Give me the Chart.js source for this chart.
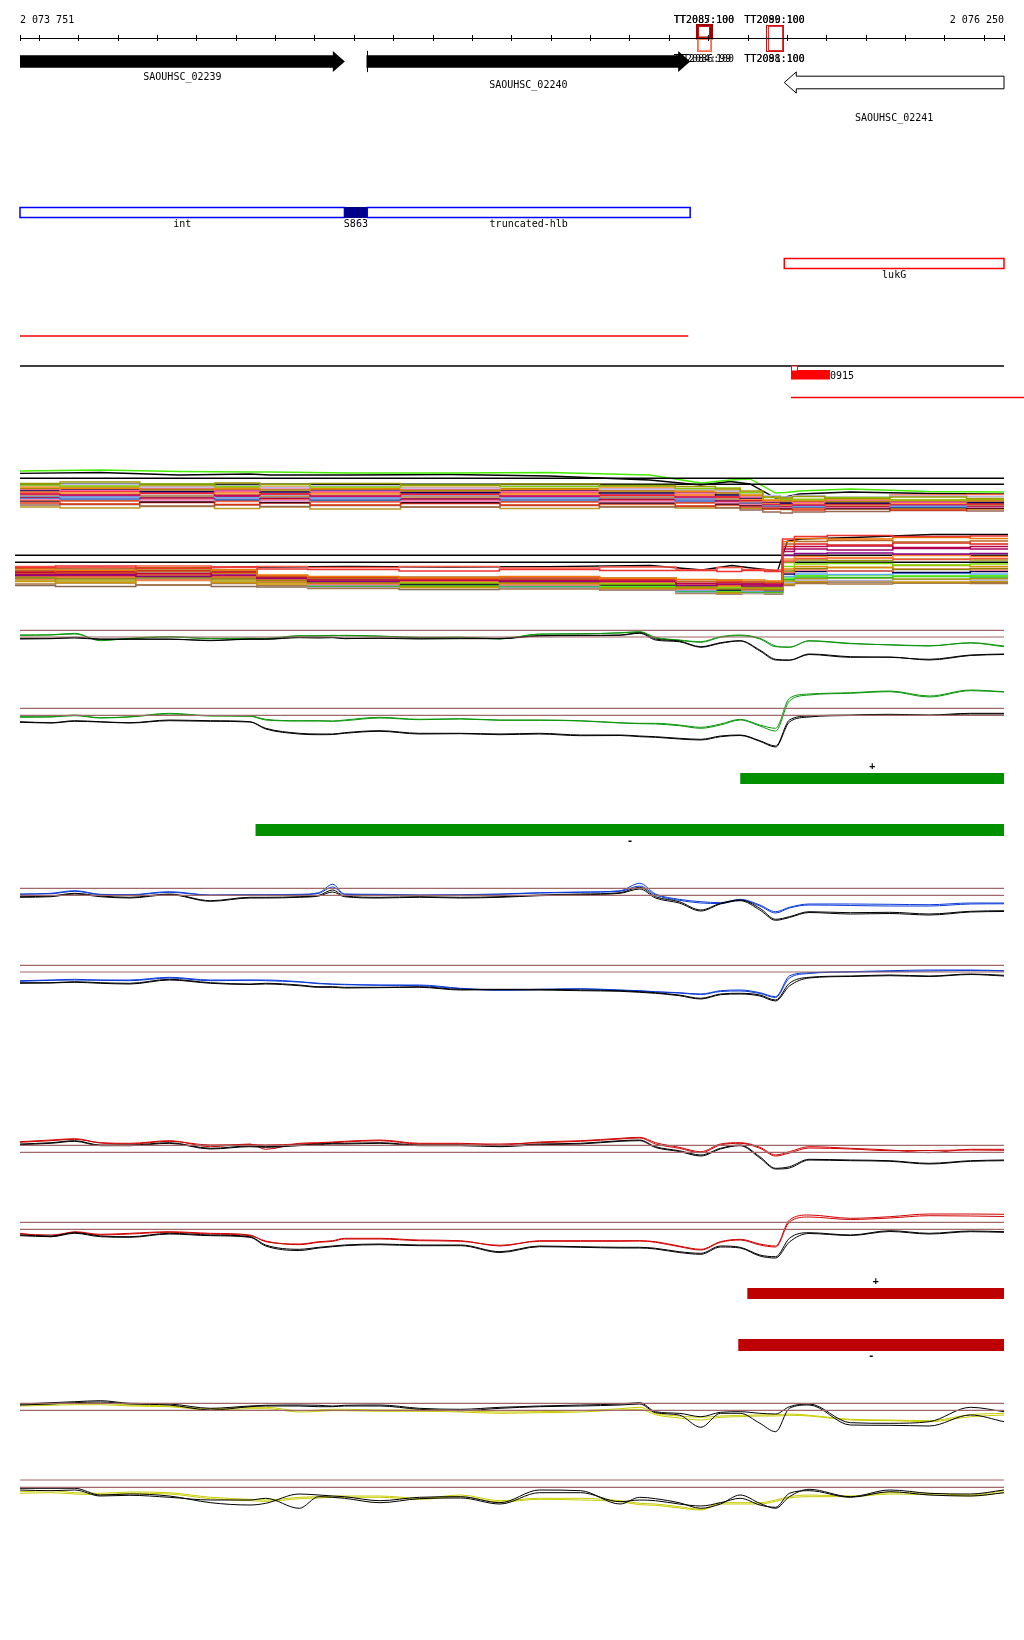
<!DOCTYPE html>
<html>
<head>
<meta charset="utf-8">
<script src="https://cdn.jsdelivr.net/npm/chart.js@4.4.1/dist/chart.umd.min.js"></script>
<style>
  html, body { margin: 0; padding: 0; background: #fff; }
  #page { position: relative; width: 1024px; height: 1640px; overflow: hidden; background: #fff; }
</style>
</head>
<body>
<div id="page"></div>
<script>
// region shown (bp)
const regionStart = 2073751;
const regionEnd = 2076250;
const rulerTicks = [2073751, 2073800, 2073900, 2074000, 2074100, 2074200, 2074300, 2074400, 2074500,
  2074600, 2074700, 2074800, 2074900, 2075000, 2075100, 2075200, 2075300, 2075400, 2075500, 2075600,
  2075700, 2075800, 2075900, 2076000, 2076100, 2076200, 2076250];

// genes
const geneNames = ['SAOUHSC_02239', 'SAOUHSC_02240', 'SAOUHSC_02241'];
const geneStarts = [2073751, 2074631, 2075692];
const geneEnds = [2074576, 2075453, 2076250];
const geneStrands = ['+', '+', '-'];

// terminators
const termNames = ['TT2085', 'TT2087', 'TT2084', 'TT2086', 'TT2089', 'TT2090', 'TT2088', 'TT2091'];
const termScores = [100, 100, 100, 99, 100, 100, 100, 100];
const termStrands = ['+', '+', '-', '-', '+', '+', '-', '-'];
const termStarts = [2075470, 2075474, 2075470, 2075473, 2075645, 2075650, 2075645, 2075650];
const termEnds = [2075506, 2075503, 2075506, 2075504, 2075689, 2075685, 2075689, 2075685];

// other features
const featureNames = ['int', 'S863', 'truncated-hlb'];
const featureStarts = [2073751, 2074575, 2074633];
const featureEnds = [2074575, 2074633, 2075453];
const lukGRange = [2075692, 2076250];
const redSegment = [2073751, 2075448];
const blackSegment = [2073751, 2076250];
const block0915 = [2075709, 2075808];
const redSegment2 = [2075709, 2076310];

// strand bars
const greenPlus = [2075581, 2076250];
const greenMinus = [2074350, 2076250];
const redPlus = [2075599, 2076250];
const redMinus = [2075576, 2076250];

// multi-sample bundles
const bundleX = [2073751, 2073955, 2074155, 2074335, 2074385, 2074590, 2074845, 2075095, 2075350,
  2075480, 2075555, 2075605, 2075670, 2075695, 2075730, 2075860, 2076060, 2076250];

const bundleAFlat = [4.17, 3.57];
const bundleAGreen = [4.9, 5.0, 4.85, 4.8, 4.8, 4.7, 4.7, 4.75, 4.5, 3.7, 4.0, 4.1, 2.7, 2.75, 2.9, 3.1, 2.85, 2.8];
const bundleABlack = [4.67, 4.75, 4.5, 4.6, 4.5, 4.5, 4.55, 4.4, 4.0, 3.5, 3.85, 3.6, 2.2, 2.3, 2.6, 2.8, 2.65, 2.6];
const bundleALines = [
  [3.65, 3.8, 3.5, 3.7, 3.55, 3.65, 3.45, 3.6, 3.4, 3.35, 3.1, 2.9, 2.3, 2.2, 2.35, 2.15, 2.3, 2.15],
  [3.5, 3.4, 3.6, 3.35, 3.55, 3.3, 3.5, 3.35, 3.45, 3.15, 3.2, 2.75, 2.25, 2.1, 2.05, 2.25, 2.0, 2.1],
  [3.45, 3.55, 3.3, 3.45, 3.25, 3.4, 3.2, 3.4, 3.1, 3.05, 2.9, 2.7, 2.45, 2.3, 2.45, 2.3, 2.4, 2.35],
  [3.3, 3.15, 3.35, 3.1, 3.3, 3.1, 3.25, 3.05, 3.2, 2.85, 2.95, 2.5, 2.0, 2.05, 1.9, 2.1, 1.95, 2.05],
  [3.15, 3.3, 3.05, 3.2, 3.0, 3.15, 2.95, 3.15, 2.9, 2.9, 2.7, 2.45, 1.95, 1.9, 2.05, 1.85, 2.0, 1.9],
  [3.05, 2.95, 3.15, 2.9, 3.1, 2.85, 3.05, 2.85, 2.95, 2.7, 2.75, 2.3, 1.85, 1.9, 1.75, 1.95, 1.8, 1.9],
  [2.95, 3.05, 2.85, 3.0, 2.8, 3.0, 2.75, 2.95, 2.7, 2.75, 2.5, 2.2, 1.8, 1.7, 1.85, 1.7, 1.85, 1.75],
  [2.85, 2.7, 2.9, 2.7, 2.85, 2.65, 2.85, 2.6, 2.75, 2.5, 2.55, 2.1, 1.7, 1.75, 1.65, 1.8, 1.65, 1.75],
  [2.7, 2.85, 2.65, 2.8, 2.6, 2.7, 2.55, 2.7, 2.45, 2.5, 2.3, 2.0, 1.7, 1.6, 1.7, 1.6, 1.75, 1.6],
  [2.6, 2.5, 2.7, 2.45, 2.6, 2.4, 2.6, 2.4, 2.5, 2.3, 2.3, 1.95, 1.6, 1.65, 1.5, 1.65, 1.55, 1.65],
  [2.5, 2.6, 2.4, 2.55, 2.35, 2.5, 2.3, 2.5, 2.25, 2.3, 2.1, 1.85, 1.55, 1.45, 1.6, 1.45, 1.6, 1.5],
  [2.4, 2.3, 2.45, 2.25, 2.4, 2.2, 2.4, 2.2, 2.3, 2.1, 2.1, 1.8, 1.5, 1.5, 1.4, 1.55, 1.4, 1.55],
  [2.3, 2.4, 2.2, 2.35, 2.15, 2.3, 2.1, 2.3, 2.05, 2.1, 1.9, 1.75, 1.45, 1.35, 1.5, 1.35, 1.5, 1.4],
  [2.2, 2.1, 2.3, 2.05, 2.2, 2.0, 2.15, 2.0, 2.1, 1.9, 1.95, 1.7, 1.4, 1.4, 1.3, 1.45, 1.3, 1.45],
  [2.1, 2.2, 2.0, 2.15, 1.95, 2.1, 1.9, 2.1, 1.85, 1.9, 1.75, 1.6, 1.35, 1.25, 1.4, 1.25, 1.4, 1.3],
  [2.0, 1.9, 2.05, 1.85, 2.0, 1.8, 1.95, 1.8, 1.9, 1.7, 1.75, 1.55, 1.3, 1.3, 1.2, 1.35, 2.5, 2.55],
  [1.9, 1.95, 1.8, 1.9, 1.75, 1.9, 1.75, 1.85, 1.7, 1.75, 1.6, 1.45, 1.25, 1.15, 1.25, 1.15, 1.25, 1.2],
  [1.7, 1.6, 1.75, 1.55, 1.7, 1.5, 1.65, 1.5, 1.6, 1.4, 1.5, 1.3, 1.1, 1.1, 1.0, 1.15, 1.0, 1.15],
  [1.5, 1.55, 1.4, 1.5, 1.35, 1.45, 1.3, 1.45, 1.3, 1.35, 1.2, 1.0, 0.8, 0.7, 0.8, 0.85, 0.95, 0.9],
  [1.3, 1.2, 1.35, 1.15, 1.3, 1.1, 1.3, 1.15, 1.35, 1.2, 1.25, 1.15, 1.1, 1.05, 1.15, 1.1, 1.15, 1.1]
];
const bundleAColors = ['#999900', '#88cc00', '#bbbbee', '#ee8800', '#aa8800', '#ff66aa', '#000066',
  '#ff9933', '#ee2222', '#cc0066', '#cc8844', '#66aaee', '#bb0033', '#3377cc', '#ee88cc', '#ff6644',
  '#330022', '#dd3311', '#996655', '#bb9922'];

const bundleBFlat = [4.47, 3.77];
const bundleBBlack = [3.2, 3.25, 3.2, 3.3, 3.3, 3.35, 3.3, 3.33, 3.45, 3.0, 3.45, 3.2, 2.9, 5.9, 6.1, 6.25, 6.55, 6.55];
const bundleBLines = [
  [3.25, 3.4, 3.15, 3.3, 3.1, 3.05, 2.9, 3.05, 2.95, 2.95, 2.85, 2.95, 2.85, 6.1, 6.35, 6.45, 6.35, 6.4],
  [3.1, 2.95, 3.2, 3.0, 2.5, 2.35, 2.2, 2.35, 2.15, 2.05, 1.95, 2.0, 1.9, 5.85, 6.15, 6.1, 6.25, 6.15],
  [2.95, 3.1, 2.85, 3.0, 2.4, 2.15, 2.3, 2.1, 2.2, 1.85, 2.0, 1.8, 1.8, 5.6, 5.85, 5.95, 5.8, 5.9],
  [2.85, 2.7, 2.95, 2.75, 2.35, 2.25, 2.05, 2.2, 2.0, 1.85, 1.75, 1.8, 1.7, 5.35, 5.6, 5.5, 5.7, 5.6],
  [2.75, 2.85, 2.65, 2.8, 2.3, 2.0, 2.15, 1.95, 2.1, 1.65, 1.8, 1.6, 1.6, 5.1, 5.35, 5.4, 5.25, 5.35],
  [2.55, 2.45, 2.65, 2.45, 2.2, 2.1, 1.95, 2.1, 1.85, 1.65, 1.55, 1.6, 1.5, 4.85, 5.1, 5.0, 5.15, 5.1],
  [2.45, 2.55, 2.35, 2.5, 2.15, 1.85, 2.0, 1.85, 1.95, 1.45, 1.6, 1.4, 1.4, 4.45, 4.65, 4.7, 4.6, 4.65],
  [2.4, 2.3, 2.5, 2.3, 2.1, 2.0, 1.85, 2.0, 1.75, 1.5, 1.4, 1.45, 1.35, 4.1, 4.35, 4.25, 4.45, 4.35],
  [3.35, 3.25, 3.4, 3.25, 3.35, 3.25, 3.35, 3.2, 3.3, 3.0, 3.25, 3.05, 3.0, 3.9, 4.15, 4.2, 4.05, 4.15],
  [2.3, 2.4, 2.2, 2.35, 2.05, 1.8, 1.9, 1.75, 1.85, 1.3, 1.45, 1.25, 1.25, 3.75, 4.0, 3.95, 4.1, 4.0],
  [2.9, 2.8, 3.0, 2.8, 2.3, 1.9, 1.75, 1.9, 1.65, 1.35, 1.25, 1.3, 1.2, 3.35, 3.6, 3.65, 3.5, 3.6],
  [2.65, 2.75, 2.55, 2.7, 2.15, 1.7, 1.8, 1.65, 1.75, 1.2, 1.35, 1.15, 1.15, 3.1, 3.35, 3.25, 3.45, 3.35],
  [2.2, 2.1, 2.3, 2.1, 1.95, 1.75, 1.65, 1.75, 1.55, 1.2, 1.1, 1.15, 1.05, 2.9, 3.15, 3.25, 3.05, 3.15],
  [2.1, 2.2, 2.0, 2.15, 1.85, 1.55, 1.7, 1.5, 1.6, 1.05, 1.2, 1.0, 1.0, 2.75, 3.0, 2.9, 3.1, 3.0],
  [2.35, 2.25, 2.45, 2.25, 1.95, 1.7, 1.55, 1.7, 1.5, 1.1, 1.0, 1.05, 0.95, 2.6, 2.85, 2.9, 2.75, 2.85],
  [2.25, 2.35, 2.15, 2.3, 1.9, 1.5, 1.65, 1.45, 1.55, 0.95, 1.1, 0.9, 0.9, 2.35, 2.6, 2.55, 2.65, 2.6],
  [2.8, 2.7, 2.9, 2.7, 2.1, 1.55, 1.45, 1.55, 1.35, 1.0, 0.9, 0.95, 0.85, 2.2, 2.45, 2.5, 2.4, 2.45],
  [2.75, 2.85, 2.65, 2.8, 2.05, 1.4, 1.55, 1.35, 1.45, 0.85, 1.0, 0.8, 0.8, 2.05, 2.3, 2.25, 2.35, 2.3],
  [2.0, 1.9, 2.1, 1.9, 1.75, 1.45, 1.35, 1.45, 1.25, 0.9, 0.8, 0.85, 0.75, 1.9, 2.15, 2.2, 2.1, 2.15],
  [2.15, 2.25, 2.05, 2.2, 1.8, 1.3, 1.45, 1.25, 1.35, 0.75, 0.9, 0.7, 0.7, 1.75, 2.0, 1.95, 2.05, 2.0],
  [1.85, 1.75, 1.95, 1.75, 1.6, 1.35, 1.25, 1.35, 1.15, 0.8, 0.7, 0.75, 0.7, 1.6, 1.85, 1.9, 1.8, 1.85],
  [1.6, 1.7, 1.5, 1.65, 1.45, 1.15, 1.3, 1.1, 1.2, 0.65, 0.8, 0.65, 0.65, 1.45, 1.65, 1.6, 1.7, 1.65],
  [1.45, 1.35, 1.5, 1.35, 1.3, 1.2, 1.05, 1.2, 1.0, 0.7, 0.6, 0.7, 0.6, 1.55, 1.75, 1.8, 1.7, 1.75]
];
const bundleBColors = ['#ee3333', '#ee7700', '#bb6622', '#dd2222', '#bb0044', '#aa0066', '#880088',
  '#ff8833', '#ff5544', '#999900', '#77dd00', '#dd8800', '#888800', '#ff7766', '#000055', '#66aaff',
  '#55ee11', '#22bb22', '#aa9900', '#aaaadd', '#cc9900', '#aa7744', '#886655'];

// paired signal tracks
const trackX = [2073751, 2073830, 2073890, 2073955, 2074030, 2074130, 2074235, 2074335, 2074375, 2074460,
  2074510, 2074545, 2074575, 2074665, 2074765, 2074870, 2074970, 2075070, 2075175, 2075275, 2075325,
  2075365, 2075425, 2075480, 2075530, 2075580, 2075630, 2075670, 2075705, 2075755, 2075860, 2075960,
  2076060, 2076165, 2076250];

const greenPlusThresholds = [3.97, 3.3];
const greenPlusA = [3.5, 3.53, 3.67, 2.93, 3.17, 3.33, 3.17, 3.17, 3.17, 3.43, 3.43, 3.43, 3.47, 3.4, 3.27, 3.27, 3.1, 3.6, 3.6, 3.73, 3.83, 3.27, 3.0, 2.83, 3.33, 3.5, 3.17, 2.4, 2.27, 2.93, 2.67, 2.5, 2.4, 2.73, 2.4];
const greenPlusB = [3.47, 3.5, 3.6, 3.0, 3.13, 3.3, 3.13, 3.17, 3.13, 3.4, 3.4, 3.47, 3.43, 3.37, 3.23, 3.27, 3.13, 3.57, 3.63, 3.7, 3.8, 3.2, 2.97, 2.77, 3.27, 3.43, 3.1, 2.33, 2.3, 2.9, 2.63, 2.53, 2.43, 2.7, 2.33];
const greenPlusRefA = [3.17, 3.17, 3.27, 3.1, 3.1, 3.1, 2.93, 3.1, 3.1, 3.27, 3.27, 3.27, 3.13, 3.2, 3.17, 3.17, 3.17, 3.43, 3.47, 3.5, 3.73, 3.1, 2.9, 2.33, 2.73, 2.93, 2.0, 1.07, 1.0, 1.6, 1.33, 1.27, 1.07, 1.5, 1.6];
const greenPlusRefB = [3.1, 3.13, 3.2, 3.07, 3.07, 3.07, 2.97, 3.07, 3.07, 3.23, 3.2, 3.23, 3.17, 3.17, 3.1, 3.13, 3.13, 3.4, 3.43, 3.47, 3.67, 3.0, 2.83, 2.27, 2.67, 2.9, 1.9, 1.0, 0.97, 1.55, 1.27, 1.3, 1.0, 1.45, 1.55];

const greenMinusThresholds = [4.17, 3.47];
const greenMinusA = [3.33, 3.33, 3.5, 3.23, 3.33, 3.67, 3.43, 3.4, 3.07, 2.93, 2.93, 2.9, 3.0, 3.27, 3.07, 3.13, 3.0, 3.0, 2.93, 2.73, 2.67, 2.67, 2.5, 2.27, 2.6, 3.07, 2.5, 2.17, 5.17, 5.6, 5.73, 5.9, 5.4, 6.0, 5.83];
const greenMinusB = [3.27, 3.3, 3.43, 3.2, 3.3, 3.6, 3.4, 3.37, 3.0, 2.9, 2.9, 2.87, 2.93, 3.2, 3.03, 3.1, 2.97, 2.97, 2.9, 2.7, 2.63, 2.6, 2.43, 2.17, 2.5, 3.0, 2.4, 1.9, 4.9, 5.5, 5.67, 5.83, 5.3, 5.93, 5.8];
const greenMinusRefA = [2.83, 2.73, 2.93, 2.83, 2.73, 3.0, 2.93, 2.83, 2.17, 1.67, 1.6, 1.6, 1.73, 1.93, 1.67, 1.67, 1.6, 1.67, 1.5, 1.5, 1.4, 1.33, 1.17, 1.07, 1.4, 1.5, 0.93, 0.4, 3.0, 3.4, 3.5, 3.57, 3.5, 3.67, 3.67];
const greenMinusRefB = [2.77, 2.7, 2.87, 2.8, 2.7, 2.93, 2.87, 2.8, 2.1, 1.6, 1.53, 1.55, 1.67, 1.87, 1.6, 1.63, 1.53, 1.6, 1.43, 1.45, 1.33, 1.27, 1.1, 1.0, 1.33, 1.45, 0.87, 0.3, 2.8, 3.3, 3.45, 3.5, 3.45, 3.6, 3.6];

const bluePlusThresholds = [4.17, 3.47];
const bluePlusA = [3.57, 3.67, 3.93, 3.57, 3.53, 3.83, 3.5, 3.53, 3.53, 3.57, 3.73, 4.57, 3.6, 3.57, 3.5, 3.53, 3.6, 3.73, 3.8, 3.93, 4.67, 3.6, 3.07, 2.83, 2.73, 3.07, 2.5, 1.83, 2.27, 2.6, 2.6, 2.57, 2.53, 2.7, 2.7];
const bluePlusB = [3.6, 3.63, 3.87, 3.53, 3.5, 3.77, 3.47, 3.5, 3.5, 3.53, 3.67, 4.3, 3.57, 3.53, 3.47, 3.5, 3.57, 3.7, 3.77, 3.87, 4.4, 3.5, 2.97, 2.7, 2.65, 3.0, 2.4, 1.7, 2.2, 2.5, 2.45, 2.4, 2.4, 2.6, 2.62];
const bluePlusRefA = [3.33, 3.4, 3.67, 3.4, 3.27, 3.6, 2.93, 3.27, 3.27, 3.33, 3.47, 4.0, 3.4, 3.27, 3.33, 3.27, 3.33, 3.5, 3.6, 3.73, 4.27, 3.33, 2.83, 2.0, 2.67, 3.0, 2.17, 1.07, 1.33, 1.83, 1.73, 1.77, 1.6, 1.87, 1.93];
const bluePlusRefB = [3.27, 3.33, 3.6, 3.33, 3.2, 3.53, 2.87, 3.2, 3.2, 3.27, 3.4, 3.8, 3.33, 3.2, 3.27, 3.2, 3.27, 3.43, 3.53, 3.67, 4.1, 3.2, 2.7, 1.9, 2.6, 2.93, 2.0, 0.97, 1.25, 1.75, 1.6, 1.65, 1.5, 1.8, 1.85];

const blueMinusThresholds = [4.17, 3.5];
const blueMinusA = [2.63, 2.7, 2.77, 2.7, 2.7, 2.97, 2.7, 2.7, 2.7, 2.53, 2.37, 2.3, 2.27, 2.2, 2.2, 1.87, 1.7, 1.77, 1.83, 1.7, 1.63, 1.53, 1.43, 1.3, 1.63, 1.7, 1.43, 1.03, 3.1, 3.43, 3.53, 3.63, 3.7, 3.7, 3.63];
const blueMinusB = [2.57, 2.67, 2.7, 2.67, 2.63, 2.9, 2.63, 2.67, 2.63, 2.5, 2.33, 2.27, 2.23, 2.17, 2.13, 1.83, 1.67, 1.73, 1.8, 1.67, 1.6, 1.5, 1.4, 1.25, 1.55, 1.6, 1.35, 0.95, 2.9, 3.35, 3.5, 3.55, 3.6, 3.65, 3.6];
const blueMinusRefA = [2.43, 2.43, 2.53, 2.43, 2.37, 2.77, 2.43, 2.3, 2.37, 2.2, 2.03, 2.03, 1.97, 1.97, 2.03, 1.77, 1.77, 1.77, 1.7, 1.63, 1.53, 1.43, 1.2, 0.87, 1.3, 1.37, 1.2, 0.7, 2.37, 2.97, 3.1, 3.2, 3.1, 3.3, 3.17];
const blueMinusRefB = [2.37, 2.4, 2.47, 2.37, 2.3, 2.7, 2.37, 2.25, 2.3, 2.13, 1.97, 1.97, 1.9, 1.93, 1.97, 1.7, 1.73, 1.7, 1.63, 1.57, 1.47, 1.37, 1.13, 0.8, 1.23, 1.3, 1.1, 0.6, 2.1, 2.9, 3.05, 3.13, 3.05, 3.25, 3.1];

const redPlusThresholds = [3.47, 2.77];
const redPlusA = [3.83, 4.0, 4.13, 3.73, 3.67, 3.93, 3.33, 3.6, 3.07, 3.67, 3.73, 3.8, 3.87, 4.0, 3.67, 3.67, 3.5, 3.8, 3.93, 4.17, 4.27, 3.73, 3.27, 2.83, 3.6, 3.73, 3.27, 2.5, 2.83, 3.33, 3.17, 3.0, 2.73, 3.07, 3.07];
const redPlusB = [3.77, 3.93, 4.07, 3.7, 3.6, 3.87, 3.5, 3.55, 3.5, 3.6, 3.67, 3.73, 3.8, 3.93, 3.6, 3.6, 3.6, 3.73, 3.87, 4.1, 4.2, 3.6, 3.17, 2.73, 3.5, 3.67, 3.17, 2.4, 2.7, 3.2, 3.1, 2.93, 2.95, 3.0, 2.97];
const redPlusRefA = [3.6, 3.73, 3.93, 3.5, 3.5, 3.73, 3.17, 3.4, 3.33, 3.5, 3.6, 3.67, 3.67, 3.73, 3.5, 3.5, 3.4, 3.6, 3.67, 3.93, 4.0, 3.33, 2.93, 2.5, 3.17, 3.5, 2.33, 1.17, 1.33, 2.07, 2.0, 1.93, 1.67, 1.93, 2.0];
const redPlusRefB = [3.53, 3.67, 3.87, 3.43, 3.43, 3.67, 3.1, 3.33, 3.27, 3.43, 3.53, 3.6, 3.6, 3.67, 3.43, 3.43, 3.33, 3.53, 3.6, 3.87, 3.93, 3.25, 2.85, 2.4, 3.1, 3.43, 2.2, 1.1, 1.2, 2.0, 1.93, 1.87, 1.6, 1.87, 1.93];

const redMinusThresholds = [4.27, 3.57];
const redMinusA = [3.17, 2.83, 3.33, 3.07, 3.17, 3.33, 3.17, 3.0, 2.33, 2.1, 2.33, 2.43, 2.67, 2.67, 2.5, 2.43, 1.9, 2.43, 2.43, 2.43, 2.43, 2.33, 1.9, 1.57, 2.33, 2.57, 2.1, 1.9, 4.5, 5.0, 4.67, 4.83, 5.1, 5.1, 5.07];
const redMinusB = [3.1, 3.0, 3.27, 3.0, 3.1, 3.27, 3.1, 2.93, 2.4, 2.03, 2.27, 2.37, 2.6, 2.6, 2.43, 2.37, 1.97, 2.37, 2.37, 2.37, 2.4, 2.27, 1.83, 1.5, 2.27, 2.5, 2.0, 1.8, 4.3, 4.8, 4.55, 4.7, 4.93, 4.9, 4.85];
const redMinusRefA = [3.0, 2.9, 3.23, 2.9, 2.83, 3.17, 3.0, 2.83, 2.0, 1.57, 1.77, 1.9, 2.0, 2.1, 2.0, 2.0, 1.33, 1.9, 1.83, 1.77, 1.77, 1.67, 1.33, 1.17, 1.9, 1.77, 1.0, 0.83, 2.67, 3.23, 3.0, 3.43, 3.17, 3.4, 3.33];
const redMinusRefB = [2.93, 2.83, 3.17, 2.83, 2.77, 3.1, 2.93, 2.77, 1.9, 1.45, 1.7, 1.83, 1.93, 2.03, 1.93, 1.93, 1.25, 1.83, 1.77, 1.7, 1.7, 1.6, 1.25, 1.07, 1.8, 1.7, 0.9, 0.7, 2.3, 3.15, 2.95, 3.35, 3.1, 3.33, 3.27];

const yellowPlusThresholds = [4.67, 3.97];
const yellowPlusA = [4.6, 4.6, 4.67, 4.67, 4.5, 4.4, 4.13, 4.27, 4.27, 3.93, 4.0, 4.07, 4.07, 4.0, 4.0, 3.93, 3.8, 3.83, 3.93, 4.13, 4.27, 3.67, 3.4, 3.27, 3.4, 3.47, 3.5, 3.53, 3.6, 3.47, 3.07, 3.0, 2.93, 3.53, 3.67];
const yellowPlusB = [4.4, 4.47, 4.53, 4.53, 4.4, 4.33, 4.0, 4.13, 4.13, 3.8, 3.87, 3.93, 3.93, 3.87, 3.87, 3.8, 3.67, 3.73, 3.8, 4.0, 4.07, 3.53, 3.2, 3.0, 3.27, 3.33, 3.4, 3.4, 3.47, 3.4, 3.0, 2.93, 2.83, 3.33, 3.5];
const yellowPlusRefA = [4.6, 4.73, 4.83, 4.93, 4.67, 4.6, 4.17, 4.4, 4.47, 4.5, 4.47, 4.4, 4.47, 4.5, 4.17, 4.07, 4.27, 4.4, 4.5, 4.6, 4.73, 3.83, 3.67, 3.33, 3.77, 3.83, 3.67, 3.6, 4.33, 4.6, 2.73, 2.67, 2.83, 4.27, 3.83];
const yellowPlusRefB = [4.5, 4.6, 4.73, 4.8, 4.6, 4.5, 4.0, 4.33, 4.4, 4.4, 4.33, 4.33, 4.4, 4.4, 4.07, 3.93, 4.17, 4.33, 4.4, 4.5, 4.6, 3.73, 3.5, 2.27, 3.67, 3.67, 2.67, 1.83, 4.17, 4.5, 2.5, 2.47, 2.4, 3.5, 2.83];

const yellowMinusThresholds = [4.5, 3.77];
const yellowMinusA = [3.33, 3.43, 3.23, 3.17, 3.3, 3.23, 2.77, 2.57, 2.5, 2.77, 2.83, 2.9, 2.9, 2.9, 2.67, 3.0, 2.43, 2.67, 2.67, 2.43, 2.17, 2.1, 1.83, 1.57, 2.23, 2.23, 2.23, 2.5, 2.83, 3.0, 2.9, 3.23, 3.17, 3.0, 3.43];
const yellowMinusB = [3.17, 3.23, 3.1, 3.03, 3.17, 3.1, 2.63, 2.43, 2.37, 2.63, 2.7, 2.77, 2.77, 2.77, 2.57, 2.83, 2.3, 2.57, 2.5, 2.33, 2.03, 1.97, 1.7, 1.5, 2.1, 2.1, 2.1, 2.37, 2.7, 2.83, 2.83, 3.1, 3.03, 2.9, 3.23];
const yellowMinusRefA = [3.67, 3.67, 3.67, 3.0, 3.1, 2.9, 2.23, 2.0, 2.17, 3.1, 3.0, 2.9, 2.83, 2.43, 2.77, 2.83, 2.23, 3.5, 3.43, 2.1, 2.77, 2.63, 2.23, 1.67, 2.1, 3.0, 2.17, 1.67, 2.83, 3.57, 2.83, 3.5, 3.17, 3.1, 3.5];
const yellowMinusRefB = [3.5, 3.43, 3.5, 2.9, 2.97, 2.77, 2.5, 2.5, 2.67, 1.67, 2.83, 2.77, 2.67, 2.23, 2.63, 2.7, 2.1, 3.23, 3.23, 2.33, 2.5, 2.43, 2.1, 1.9, 2.23, 2.67, 2.0, 1.77, 3.17, 3.43, 2.77, 3.33, 3.0, 2.9, 3.23];

// ---------------------------------------------------------------------------

const page = document.getElementById('page');
const monoFont = '10px "DejaVu Sans Mono", monospace';
const thresholdColor = '#a06868';

function formatBp(v) {
  return String(Math.round(v)).replace(/\B(?=(\d{3})+(?!\d))/g, ' ');
}

function mount(top, height, config) {
  const canvas = document.createElement('canvas');
  canvas.width = 1024;
  canvas.height = height;
  canvas.style.cssText = 'position:absolute;left:0;top:' + top + 'px;width:1024px;height:' + height + 'px';
  page.appendChild(canvas);
  return new Chart(canvas, config);
}

function trackOptions(yMax, padLeft = 20, padRight = 20) {
  return {
    responsive: false,
    animation: false,
    events: [],
    layout: { padding: { left: padLeft, right: padRight, top: 0, bottom: 0 } },
    plugins: { legend: { display: false }, tooltip: { enabled: false } },
    elements: { point: { radius: 0 } },
    scales: {
      x: { type: 'linear', min: regionStart, max: regionEnd, display: false },
      y: { type: 'linear', min: 0, max: yMax, display: false }
    }
  };
}

function curve(xs, values, color, width, mode) {
  const ds = {
    data: xs.map((x, i) => ({ x, y: values[i] })),
    borderColor: color,
    borderWidth: width,
    pointRadius: 0,
    fill: false,
    tension: 0
  };
  if (mode === 'smooth') ds.cubicInterpolationMode = 'monotone';
  if (mode === 'step') ds.stepped = 'middle';
  return ds;
}

function flat(value, color, width) {
  return {
    data: [{ x: regionStart, y: value }, { x: regionEnd, y: value }],
    borderColor: color,
    borderWidth: width,
    pointRadius: 0,
    tension: 0
  };
}

function signalTrack(top, height, yMax, thresholds, refs, samples, color) {
  const datasets = thresholds.map((t) => flat(t, thresholdColor, 1.2));
  refs.forEach((values) => datasets.push(curve(trackX, values, '#000000', 1, 'smooth')));
  samples.forEach((values) => datasets.push(curve(trackX, values, color, 1, 'smooth')));
  mount(top, height, { type: 'line', data: { datasets }, options: trackOptions(yMax) });
}

function bundleTrack(top, height, yMax, padLeft, padRight, lines, colors, flats, overlays) {
  const datasets = lines.map((values, i) => curve(bundleX, values, colors[i], 1.5, 'step'));
  flats.forEach((v) => datasets.push(flat(v, '#000000', 1.5)));
  overlays.forEach((o) => datasets.push(curve(bundleX, o.values, o.color, 1.3, 'line')));
  mount(top, height, { type: 'line', data: { datasets }, options: trackOptions(yMax, padLeft, padRight) });
}

const strandLabelPlugin = {
  id: 'strandLabel',
  afterDatasetsDraw(chart, args, opts) {
    const bar = chart.getDatasetMeta(0).data[0];
    if (!bar) return;
    const { ctx, chartArea } = chart;
    ctx.save();
    ctx.font = 'bold 10px "DejaVu Sans Mono", monospace';
    ctx.fillStyle = '#000';
    ctx.textAlign = 'center';
    ctx.textBaseline = 'middle';
    const y = opts.above ? chartArea.top - 7 : chartArea.bottom + 5;
    ctx.fillText(chart.data.labels[0], (bar.x + bar.base) / 2, y);
    ctx.restore();
  }
};

function strandBar(top, height, padTop, padBottom, range, color, label, above) {
  const options = trackOptions(1);
  options.indexAxis = 'y';
  options.layout.padding.top = padTop;
  options.layout.padding.bottom = padBottom;
  options.scales.y = { type: 'category', display: false };
  options.plugins.strandLabel = { above };
  mount(top, height, {
    type: 'bar',
    data: {
      labels: [label],
      datasets: [{ data: [range], backgroundColor: color, borderWidth: 0, barPercentage: 1, categoryPercentage: 1 }]
    },
    options,
    plugins: [strandLabelPlugin]
  });
}

// layout of the annotation rows (pixels inside the annotation canvas)
const geneMid = [61.5, 61.5, 82.5];
const geneLabelY = [77, 85.5, 118];
const termBoxes = [[25.5, 38], [26.5, 37.5], [38.5, 51.5], [39.5, 50.5], [25.5, 51.5], [26.5, 50.5], [25.5, 51.5], [26.5, 50.5]];
const termColors = ['#a00000', '#c01010', '#ff6a4a', '#ff8a6a', '#cc1111', '#dd3333', '#cc1111', '#dd3333'];
const termWidths = [3, 1, 1, 1, 1, 1, 1, 1];

const annotationPlugin = {
  id: 'annotations',
  afterDraw(chart) {
    const ctx = chart.ctx;
    const xScale = chart.scales.x;
    const px = (bp) => xScale.getPixelForValue(bp);
    ctx.save();
    ctx.font = monoFont;
    ctx.textAlign = 'center';
    ctx.textBaseline = 'middle';

    // terminators
    termNames.forEach((name, i) => {
      const x0 = px(termStarts[i]);
      const x1 = px(termEnds[i]);
      const [y0, y1] = termBoxes[i];
      ctx.strokeStyle = termColors[i];
      ctx.lineWidth = termWidths[i];
      ctx.strokeRect(Math.round(x0) + 0.5, y0, Math.round(x1 - x0), y1 - y0);
      ctx.fillStyle = '#000';
      ctx.fillText(name + ':' + termScores[i], (x0 + x1) / 2, termStrands[i] === '+' ? 20 : 59);
    });

    // genes
    geneNames.forEach((name, i) => {
      const x0 = px(geneStarts[i]);
      const x1 = px(geneEnds[i]);
      const mid = geneMid[i];
      const h = 6.3, H = 10.6, head = 12;
      ctx.beginPath();
      if (geneStrands[i] === '+') {
        ctx.moveTo(x0, mid - h);
        ctx.lineTo(x1 - head, mid - h);
        ctx.lineTo(x1 - head, mid - H);
        ctx.lineTo(x1, mid);
        ctx.lineTo(x1 - head, mid + H);
        ctx.lineTo(x1 - head, mid + h);
        ctx.lineTo(x0, mid + h);
        ctx.closePath();
        ctx.fillStyle = '#000';
        ctx.fill();
      } else {
        ctx.moveTo(x1, mid - h);
        ctx.lineTo(x0 + head, mid - h);
        ctx.lineTo(x0 + head, mid - H);
        ctx.lineTo(x0, mid);
        ctx.lineTo(x0 + head, mid + H);
        ctx.lineTo(x0 + head, mid + h);
        ctx.lineTo(x1, mid + h);
        ctx.closePath();
        ctx.fillStyle = '#fff';
        ctx.fill();
        ctx.strokeStyle = '#000';
        ctx.lineWidth = 1;
        ctx.stroke();
      }
      if (i === 1) {
        ctx.strokeStyle = '#000';
        ctx.lineWidth = 1;
        ctx.beginPath();
        ctx.moveTo(Math.round(x0) + 0.5, mid - H);
        ctx.lineTo(Math.round(x0) + 0.5, mid + H);
        ctx.stroke();
      }
      ctx.fillStyle = '#000';
      ctx.fillText(name, (x0 + x1) / 2, geneLabelY[i]);
    });

    // int / S863 / truncated-hlb
    featureNames.forEach((name, i) => {
      const x0 = px(featureStarts[i]);
      const x1 = px(featureEnds[i]);
      if (name === 'S863') {
        ctx.fillStyle = '#000088';
        ctx.fillRect(x0, 207, x1 - x0, 11);
      } else {
        ctx.strokeStyle = '#0000ff';
        ctx.lineWidth = 1.5;
        ctx.strokeRect(x0, 207.5, x1 - x0, 10);
      }
      ctx.fillStyle = '#000';
      ctx.fillText(name, (x0 + x1) / 2, 224.5);
    });

    // lukG
    const lx0 = px(lukGRange[0]);
    const lx1 = px(lukGRange[1]);
    ctx.strokeStyle = '#ff0000';
    ctx.lineWidth = 1.5;
    ctx.strokeRect(lx0, 258.5, lx1 - lx0, 10);
    ctx.fillStyle = '#000';
    ctx.fillText('lukG', (lx0 + lx1) / 2, 275.5);

    // segment rows
    const hline = (range, y, color) => {
      ctx.strokeStyle = color;
      ctx.lineWidth = 1.5;
      ctx.beginPath();
      ctx.moveTo(px(range[0]), y);
      ctx.lineTo(px(range[1]), y);
      ctx.stroke();
    };
    hline(redSegment, 336, '#ff0000');
    hline(blackSegment, 366, '#000000');
    hline(redSegment2, 397.5, '#ff0000');

    const bx0 = px(block0915[0]);
    const bx1 = px(block0915[1]);
    ctx.fillStyle = '#ff0000';
    ctx.fillRect(bx0, 370, bx1 - bx0, 9.5);
    ctx.fillStyle = '#fff';
    ctx.fillRect(bx0 + 1, 366, 5, 5);
    ctx.strokeStyle = '#ff0000';
    ctx.lineWidth = 1;
    ctx.strokeRect(bx0 + 0.5, 366, 6, 5);
    ctx.fillStyle = '#000';
    ctx.textAlign = 'left';
    ctx.fillText('0915', bx1, 376);
    ctx.restore();
  }
};

// annotation canvas (genes, terminators, features)
mount(0, 410, { type: 'line', data: { datasets: [] }, options: trackOptions(1), plugins: [annotationPlugin] });

// coordinate ruler
mount(0, 41, {
  type: 'line',
  data: { datasets: [] },
  options: {
    responsive: false,
    animation: false,
    events: [],
    layout: { padding: { left: 20, right: 20, top: 0, bottom: 0 } },
    plugins: { legend: { display: false }, tooltip: { enabled: false } },
    scales: {
      x: {
        type: 'linear',
        position: 'top',
        min: regionStart,
        max: regionEnd,
        afterBuildTicks: (scale) => { scale.ticks = rulerTicks.map((value) => ({ value })); },
        afterFit: (scale) => { scale.height = 38; },
        grid: { color: '#000', lineWidth: 1, tickLength: 3, drawOnChartArea: true, drawTicks: true },
        border: { display: true, color: '#000', width: 1 },
        ticks: {
          autoSkip: false,
          maxRotation: 0,
          minRotation: 0,
          align: 'inner',
          padding: 9,
          color: '#000',
          font: { family: 'DejaVu Sans Mono', size: 10 },
          callback: (value, i, ticks) => (i === 0 || i === ticks.length - 1 ? formatBp(value) : '')
        }
      },
      y: { display: false, min: 0, max: 1 }
    }
  }
});

// sample bundles
bundleTrack(460, 60, 6, 20, 20, bundleALines, bundleAColors, bundleAFlat, [
  { values: bundleAGreen, color: '#44ee00' },
  { values: bundleABlack, color: '#000000' }
]);
bundleTrack(525, 75, 7.5, 15, 16, bundleBLines, bundleBColors, bundleBFlat, [
  { values: bundleBBlack, color: '#000000' }
]);

// green pair
signalTrack(620, 50, 5, greenPlusThresholds, [greenPlusRefA, greenPlusRefB], [greenPlusA, greenPlusB], '#0a960a');
signalTrack(680, 70, 7, greenMinusThresholds, [greenMinusRefA, greenMinusRefB], [greenMinusA, greenMinusB], '#0a960a');
strandBar(758, 26, 15, 0, greenPlus, '#009000', '+', true);
strandBar(824, 24, 0, 12, greenMinus, '#009000', '-', false);

// blue pair
signalTrack(875, 55, 5.5, bluePlusThresholds, [bluePlusRefA, bluePlusRefB], [bluePlusA, bluePlusB], '#0a3ad8');
signalTrack(947, 60, 6, blueMinusThresholds, [blueMinusRefA, blueMinusRefB], [blueMinusA, blueMinusB], '#0a3ad8');

// red pair
signalTrack(1125, 55, 5.5, redPlusThresholds, [redPlusRefA, redPlusRefB], [redPlusA, redPlusB], '#d00000');
signalTrack(1205, 60, 6, redMinusThresholds, [redMinusRefA, redMinusRefB], [redMinusA, redMinusB], '#d00000');
strandBar(1273, 26, 15, 0, redPlus, '#bf0000', '+', true);
strandBar(1339, 24, 0, 12, redMinus, '#bf0000', '-', false);

// yellow pair
signalTrack(1385, 65, 6.5, yellowPlusThresholds, [yellowPlusRefA, yellowPlusRefB], [yellowPlusA, yellowPlusB], '#c8cc00');
signalTrack(1465, 60, 6, yellowMinusThresholds, [yellowMinusRefA, yellowMinusRefB], [yellowMinusA, yellowMinusB], '#c8cc00');
</script>
</body>
</html>
